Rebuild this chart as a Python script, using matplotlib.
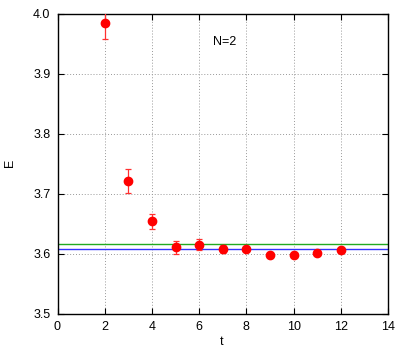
import matplotlib
matplotlib.use("Agg")
import matplotlib.pyplot as plt

plt.rcParams["font.family"] = ["Liberation Sans", "DejaVu Sans"]

T = [2, 3, 4, 5, 6, 7, 8, 9, 10, 11, 12]
E = [3.985, 3.722, 3.654, 3.611, 3.615, 3.608, 3.608, 3.599, 3.599, 3.601, 3.607]
E_ERR = [0.027, 0.020, 0.013, 0.011, 0.009, 0.006, 0.004, 0.002, 0.002, 0.002, 0.002]

GREEN_LEVEL = 3.616
BLUE_LEVEL = 3.608

W, H = 407, 349
fig = plt.figure(figsize=(W / 100, H / 100), dpi=100)
ax = fig.add_axes([57.5 / W, 1 - 314 / H, (388 - 57.5) / W, (314 - 13.5) / H])

ax.axhline(BLUE_LEVEL, color="#3333ff", linewidth=1.0, zorder=2)
ax.axhline(GREEN_LEVEL, color="#22aa22", linewidth=1.0, zorder=2)
ax.errorbar(T, E, yerr=E_ERR, fmt="o", color="red", ecolor="#ff3030",
            markersize=6, elinewidth=0.9, capsize=2.5, capthick=0.9, zorder=3)

ax.text(7.07, 3.953, "N=2", ha="center", va="center", fontsize=9)

ax.set_xlim(0, 14)
ax.set_ylim(3.5, 4.0)
ax.set_xticks(range(0, 15, 2))
ax.set_yticks([3.5, 3.6, 3.7, 3.8, 3.9, 4.0])
ax.set_yticklabels(["3.5", "3.6", "3.7", "3.8", "3.9", "4.0"])
ax.set_xlabel("t", fontsize=9, va="center")
ax.set_ylabel("E", fontsize=9, va="center")
ax.xaxis.set_label_coords(222 / W, 1 - 342 / H, transform=fig.transFigure)
ax.yaxis.set_label_coords(10 / W, 1 - 163 / H, transform=fig.transFigure)
ax.tick_params(direction="in", top=True, right=True, length=4, width=0.8,
               labelsize=9, pad=5)
ax.grid(True, color="#999999", linestyle=(0, (1, 2)), linewidth=0.7)
for s in ax.spines.values():
    s.set_linewidth(1.0)

fig.savefig("out.png", dpi=100)
